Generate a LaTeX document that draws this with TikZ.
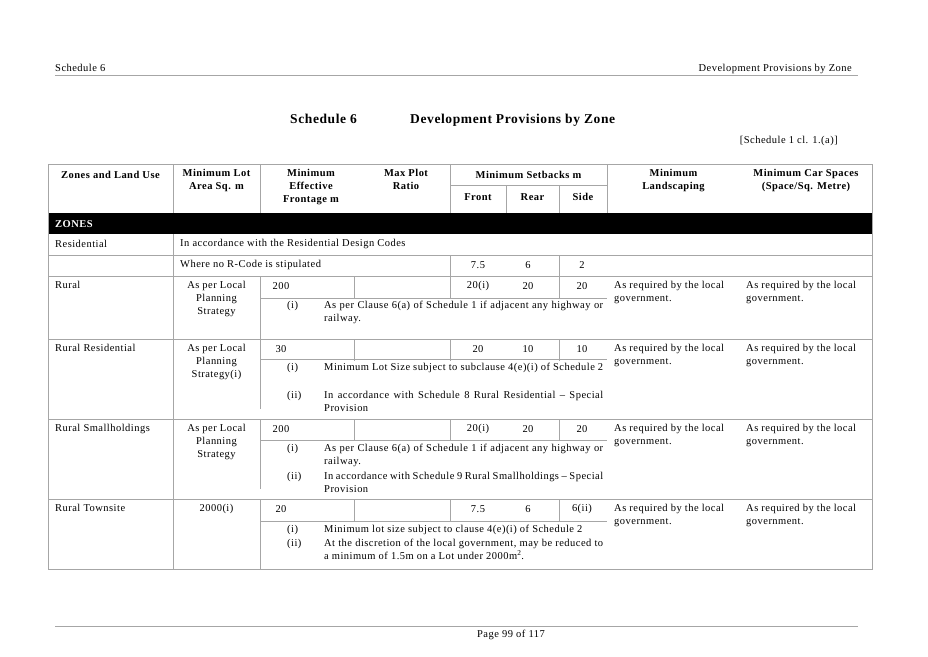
\documentclass[tikz,border=0pt]{standalone}
\usepackage{fontspec}
\setmainfont{Liberation Serif}[LetterSpace=4.5]
\usetikzlibrary{positioning}
\tikzset{
  rule/.style={draw=gray!70, line width=0.6pt},
  txt/.style={font=\fontsize{10.5}{13}\selectfont, inner sep=0pt},
  hdr/.style={txt, font=\fontsize{10.5}{13}\selectfont\bfseries, align=center},
  note/.style={txt, anchor=north west, text width=279pt, align=justify},
}
\begin{document}
\begin{tikzpicture}[x=1pt,y=-1pt]
\useasboundingbox (0,0) rectangle (928,656);
% page head and foot
\node[txt, anchor=base west] (runL) at (55,71) {Schedule 6};
\node[txt, anchor=base east] (runR) at (852,71) {Development Provisions by Zone};
\draw[rule] (55,75) -- (858,75);
\draw[rule] (55,626) -- (858,626);
\node[txt, anchor=base] (page) at (511,637) {Page 99 of 117};
\node[txt, font=\fontsize{13.5}{15}\selectfont\bfseries, anchor=base west] (title1) at (290,123) {Schedule 6};
\node[txt, font=\fontsize{13.5}{15}\selectfont\bfseries, anchor=base west] (title2) at (410,123) {Development Provisions by Zone};
\node[txt, anchor=base east] (ref) at (838,143) {[Schedule 1 cl. 1.(a)]};
% table frame
\fill (48,213) rectangle (872,234);
\node[txt, font=\fontsize{10.5}{13}\selectfont\bfseries, text=white, anchor=west] (zones) at (55,224) {ZONES};
\draw[rule] (48,164) rectangle (872,569);
\draw[rule] (450,185) -- (607,185);
\foreach \y in {255,276,339,419,499} \draw[rule] (48,\y) -- (872,\y);
\draw[rule] (173,255) -- (872,255);
\foreach \y in {298,359,440,521} \draw[rule] (260,\y) -- (607,\y);
\foreach \x in {173,260,450,607} \draw[rule] (\x,164) -- (\x,213);
\foreach \x in {506,559} \draw[rule] (\x,185) -- (\x,213);
\draw[rule] (173,234) -- (173,569);
\draw[rule] (450,255) -- (450,276);
\draw[rule] (559,255) -- (559,276);
\foreach \t in {276,339,419,499} {
  \draw[rule] (260,\t) -- (260,\t+70);
  \draw[rule] (354,\t) -- (354,\t+22);
  \draw[rule] (450,\t) -- (450,\t+22);
  \draw[rule] (559,\t) -- (559,\t+22);
}
\draw[rule] (260,499) -- (260,569);
% header
\node[hdr] (hZone) at (110.5,175) {Zones and Land Use};
\node[hdr, anchor=north] (hLot) at (216.5,169) {Minimum Lot\\Area Sq. m};
\node[hdr, anchor=north] (hFront) at (311,169) {Minimum\\Effective\\Frontage m};
\node[hdr, anchor=north] (hPlot) at (406,169) {Max Plot\\Ratio};
\node[hdr] (hSet) at (528.5,175) {Minimum Setbacks m};
\node[hdr] (hF) at (478,197) {Front};
\node[hdr] (hR) at (532.5,197) {Rear};
\node[hdr] (hS) at (583,197) {Side};
\node[hdr, anchor=north] (hLand) at (673.5,169) {Minimum\\Landscaping};
\node[hdr, anchor=north] (hCar) at (806,169) {Minimum Car Spaces\\(Space/Sq. Metre)};
% residential
\node[txt, anchor=west] (res) at (55,244) {Residential};
\node[txt, anchor=west] (resA) at (180,244) {In accordance with the Residential Design Codes};
\node[txt, anchor=west] (resB) at (180,265) {Where no R-Code is stipulated};
\node[txt] (resF) at (478,265) {7.5};
\node[txt] (resR) at (528,265) {6};
\node[txt] (resS) at (582,265) {2};
% rural rows
\foreach \t/\name/\lot/\fr/\sf/\sr/\ss in {
  276/Rural/{As per Local\\Planning\\Strategy}/200/20(i)/20/20,
  339/Rural Residential/{As per Local\\Planning\\Strategy(i)}/30/20/10/10,
  419/Rural Smallholdings/{As per Local\\Planning\\Strategy}/200/20(i)/20/20,
  499/Rural Townsite/{2000(i)}/20/7.5/6/6(ii)} {
  \node[txt, anchor=north west] at (55,\t+5) {\name};
  \node[txt, anchor=north, align=center] at (216.5,\t+5) {\lot};
  \node[txt] at (281,\t+10) {\fr};
  \node[txt] at (478,\t+10) {\sf};
  \node[txt] at (528,\t+10) {\sr};
  \node[txt] at (582,\t+10) {\ss};
  \node[txt, anchor=north west, align=left] at (614,\t+5) {As required by the local\\government.};
  \node[txt, anchor=north west, align=left] at (746,\t+5) {As required by the local\\government.};
}
% notes
\node[txt, anchor=north west] (n1a) at (287,301) {(i)};
\node[note] (n1) at (324,301) {As per Clause 6(a) of Schedule 1 if adjacent any highway or railway.};
\node[txt, anchor=north west] (n2a) at (287,363) {(i)};
\node[note] (n2) at (324,363) {Minimum Lot Size subject to subclause 4(e)(i) of Schedule 2};
\node[txt, anchor=north west] (n2b) at (287,391) {(ii)};
\node[note] (n2c) at (324,391) {In accordance with Schedule 8 Rural Residential -- Special Provision};
\node[txt, anchor=north west] (n3a) at (287,444) {(i)};
\node[note] (n3) at (324,444) {As per Clause 6(a) of Schedule 1 if adjacent any highway or railway.};
\node[txt, anchor=north west] (n3b) at (287,472) {(ii)};
\node[note] (n3c) at (324,472) {In accordance with Schedule 9 Rural Smallholdings -- Special Provision};
\node[txt, anchor=north west] (n4a) at (287,525) {(i)};
\node[note] (n4) at (324,525) {Minimum lot size subject to clause 4(e)(i) of Schedule 2};
\node[txt, anchor=north west] (n4b) at (287,539) {(ii)};
\node[note] (n4c) at (324,539) {At the discretion of the local government, may be reduced to a minimum of 1.5m on a Lot under 2000m\textsuperscript{2}.};
\end{tikzpicture}
\end{document}
